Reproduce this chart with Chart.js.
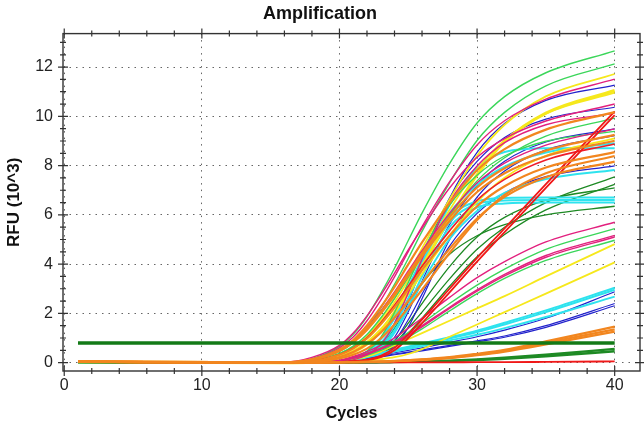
<!DOCTYPE html>
<html>
<head>
<meta charset="utf-8">
<script src="https://cdn.jsdelivr.net/npm/chart.js@4.4.1/dist/chart.umd.min.js"></script>
<style>
  html, body { margin: 0; padding: 0; background: #fff; }
  canvas { display: block; }
</style>
</head>
<body>
<canvas id="amp" width="644" height="429"></canvas>
<script>
const cycles = [1, 16, 18, 20, 21, 22, 23, 24, 25, 26, 28, 30, 32, 35, 40];

const xTicks = [0, 10, 20, 30, 40];
const yTicks = [0, 2, 4, 6, 8, 10, 12];

const thresholdX = [1, 40];
const thresholdY = [0.8, 0.8];

// RFU (10^3) per run, one row per well
const greenRuns = [
  [0.03, 0.01, 0.16, 0.66, 1.15, 1.87, 2.80, 3.83, 4.96, 6.07, 8.08, 9.73, 10.80, 11.77, 12.66],
  [0.03, 0.00, 0.08, 0.46, 0.81, 1.40, 2.21, 3.18, 4.23, 5.33, 7.30, 9.02, 10.16, 11.24, 12.13],
  [0.03, 0.00, 0.06, 0.37, 0.67, 1.14, 1.81, 2.60, 3.46, 4.37, 5.98, 7.38, 8.32, 9.20, 9.93],
  [0.02, 0.00, 0.01, 0.06, 0.19, 0.46, 1.02, 2.04, 3.25, 4.46, 6.40, 7.61, 8.39, 8.99, 9.39],
  [0.02, 0.00, 0.02, 0.08, 0.20, 0.38, 0.60, 0.88, 1.22, 1.60, 2.40, 3.15, 3.80, 4.60, 5.44],
  [0.02, 0.00, 0.02, 0.07, 0.16, 0.30, 0.50, 0.75, 1.04, 1.37, 2.10, 2.80, 3.42, 4.15, 4.97]
];
const magentaRuns = [
  [0.03, 0.01, 0.14, 0.60, 1.04, 1.70, 2.54, 3.48, 4.51, 5.52, 7.34, 8.84, 9.82, 10.70, 11.51],
  [0.03, 0.02, 0.21, 0.70, 1.20, 1.90, 2.73, 3.63, 4.58, 5.45, 7.09, 8.34, 9.10, 9.81, 10.50],
  [0.03, 0.01, 0.12, 0.50, 0.86, 1.41, 2.10, 2.87, 3.72, 4.55, 6.06, 7.30, 8.10, 8.83, 9.49],
  [0.02, 0.00, 0.01, 0.03, 0.11, 0.32, 0.74, 1.58, 2.84, 4.20, 6.51, 7.98, 8.93, 9.66, 10.13],
  [0.02, 0.00, 0.02, 0.10, 0.25, 0.45, 0.70, 1.00, 1.40, 1.80, 2.65, 3.45, 4.10, 4.90, 5.70],
  [0.02, 0.00, 0.02, 0.08, 0.20, 0.37, 0.58, 0.85, 1.15, 1.50, 2.25, 2.95, 3.58, 4.35, 5.17],
  [0.02, 0.00, 0.02, 0.07, 0.18, 0.34, 0.55, 0.80, 1.10, 1.45, 2.20, 2.90, 3.52, 4.28, 5.10]
];
const yellowRuns = [
  [0.03, 0.00, 0.05, 0.33, 0.62, 1.07, 1.75, 2.62, 3.58, 4.64, 6.63, 8.40, 9.66, 10.81, 11.72],
  [0.03, 0.00, 0.05, 0.31, 0.58, 1.00, 1.64, 2.45, 3.35, 4.34, 6.20, 7.85, 9.03, 10.11, 10.96],
  [0.03, 0.00, 0.04, 0.26, 0.48, 0.84, 1.36, 2.04, 2.78, 3.61, 5.16, 6.53, 7.51, 8.40, 9.11],
  [0.02, 0.00, 0.01, 0.06, 0.13, 0.25, 0.45, 0.70, 0.95, 1.20, 1.70, 2.20, 2.70, 3.50, 4.81],
  [0.02, 0.00, 0.01, 0.02, 0.04, 0.08, 0.14, 0.22, 0.35, 0.55, 1.05, 1.55, 2.05, 2.80, 4.07]
];
const yellowThick = [
  [0.03, 0.00, 0.02, 0.22, 0.42, 0.75, 1.29, 2.04, 2.93, 3.90, 5.86, 7.62, 8.97, 10.13, 11.05]
];
const blueRuns = [
  [0.02, 0.00, 0.01, 0.02, 0.07, 0.23, 0.55, 1.23, 2.46, 3.92, 6.67, 8.54, 9.71, 10.65, 11.27],
  [0.02, 0.00, 0.01, 0.03, 0.11, 0.32, 0.75, 1.61, 2.90, 4.30, 6.67, 8.17, 9.14, 9.89, 10.37],
  [0.02, 0.00, 0.01, 0.02, 0.06, 0.20, 0.46, 1.03, 2.07, 3.30, 5.61, 7.19, 8.18, 8.96, 9.49],
  [0.02, 0.00, 0.01, 0.01, 0.03, 0.10, 0.29, 0.67, 1.44, 2.59, 4.99, 6.72, 7.78, 8.64, 9.22],
  [0.02, 0.00, 0.01, 0.02, 0.05, 0.17, 0.39, 0.87, 1.74, 2.78, 4.73, 6.06, 6.89, 7.55, 7.99],
  [0.02, 0.00, 0.01, 0.04, 0.10, 0.20, 0.30, 0.40, 0.50, 0.60, 0.82, 1.05, 1.32, 1.80, 2.88],
  [0.02, 0.00, 0.01, 0.03, 0.08, 0.17, 0.26, 0.35, 0.43, 0.52, 0.70, 0.88, 1.08, 1.50, 2.40],
  [0.02, 0.00, 0.01, 0.03, 0.07, 0.15, 0.23, 0.32, 0.40, 0.48, 0.66, 0.84, 1.03, 1.43, 2.31]
];
const cyanRuns = [
  [0.02, 0.00, 0.01, 0.05, 0.15, 0.35, 0.75, 1.50, 2.60, 3.90, 6.40, 7.90, 8.55, 8.70, 8.70],
  [0.02, 0.00, 0.01, 0.02, 0.08, 0.24, 0.57, 1.22, 2.19, 3.24, 5.02, 6.16, 6.89, 7.45, 7.82],
  [0.02, 0.00, 0.01, 0.08, 0.20, 0.45, 0.95, 1.80, 2.90, 4.10, 5.90, 6.55, 6.68, 6.70, 6.70],
  [0.02, 0.00, 0.01, 0.06, 0.16, 0.38, 0.80, 1.55, 2.60, 3.80, 5.70, 6.45, 6.58, 6.60, 6.60],
  [0.02, 0.00, 0.01, 0.05, 0.13, 0.30, 0.65, 1.30, 2.30, 3.50, 5.50, 6.30, 6.46, 6.50, 6.50],
  [0.02, 0.00, 0.01, 0.06, 0.18, 0.43, 0.97, 1.93, 3.08, 4.23, 6.07, 7.22, 7.96, 8.53, 8.91],
  [0.02, 0.00, 0.01, 0.06, 0.13, 0.26, 0.40, 0.52, 0.65, 0.78, 1.03, 1.30, 1.62, 2.12, 3.04],
  [0.02, 0.00, 0.01, 0.05, 0.12, 0.25, 0.38, 0.50, 0.62, 0.74, 0.98, 1.24, 1.55, 2.05, 2.96],
  [0.02, 0.00, 0.01, 0.05, 0.11, 0.22, 0.34, 0.45, 0.56, 0.67, 0.90, 1.13, 1.40, 1.85, 2.68]
];
const orangeRuns = [
  [0.04, 0.01, 0.13, 0.53, 0.92, 1.51, 2.25, 3.07, 3.99, 4.88, 6.49, 7.81, 8.67, 9.46, 10.17],
  [0.04, 0.01, 0.12, 0.48, 0.84, 1.37, 2.05, 2.80, 3.63, 4.44, 5.91, 7.11, 7.89, 8.61, 9.25],
  [0.04, 0.01, 0.11, 0.47, 0.82, 1.33, 1.99, 2.73, 3.53, 4.32, 5.75, 6.93, 7.69, 8.38, 9.01],
  [0.04, 0.00, 0.05, 0.32, 0.57, 0.98, 1.56, 2.24, 2.98, 3.76, 5.15, 6.35, 7.16, 7.92, 8.55],
  [0.04, 0.00, 0.02, 0.17, 0.32, 0.57, 0.98, 1.55, 2.23, 2.96, 4.45, 5.79, 6.81, 7.69, 8.39],
  [0.04, 0.00, 0.03, 0.23, 0.43, 0.75, 1.22, 1.82, 2.49, 3.23, 4.62, 5.85, 6.73, 7.53, 8.16],
  [0.04, 0.00, 0.00, 0.01, 0.02, 0.03, 0.05, 0.07, 0.10, 0.13, 0.22, 0.36, 0.52, 0.86, 1.46],
  [0.04, 0.00, 0.00, 0.01, 0.02, 0.03, 0.04, 0.06, 0.09, 0.12, 0.20, 0.33, 0.48, 0.80, 1.35],
  [0.04, 0.00, 0.00, 0.01, 0.02, 0.03, 0.04, 0.06, 0.08, 0.11, 0.18, 0.30, 0.45, 0.74, 1.26]
];
const redRuns = [
  [0.03, 0.01, 0.01, 0.03, 0.06, 0.12, 0.28, 0.60, 1.15, 1.75, 3.00, 4.25, 5.45, 7.25, 10.20],
  [0.03, 0.01, 0.01, 0.03, 0.05, 0.10, 0.22, 0.50, 1.00, 1.60, 2.85, 4.10, 5.30, 7.10, 10.05],
  [0.02, 0.01, 0.01, 0.01, 0.01, 0.01, 0.01, 0.01, 0.01, 0.01, 0.01, 0.02, 0.02, 0.03, 0.05]
];
const redEarly = [
  [0.03, 0.00, 0.06, 0.33, 0.60, 1.02, 1.62, 2.33, 3.10, 3.91, 5.35, 6.60, 7.44, 8.23, 8.88]
];
const darkGreenRuns = [
  [0.02, 0.00, 0.01, 0.03, 0.08, 0.20, 0.42, 0.80, 1.40, 2.05, 3.40, 4.60, 5.50, 6.50, 7.54],
  [0.02, 0.00, 0.01, 0.03, 0.07, 0.15, 0.35, 0.70, 1.20, 1.80, 3.10, 4.30, 5.20, 6.20, 7.24],
  [0.02, 0.00, 0.01, 0.04, 0.09, 0.20, 0.45, 0.90, 1.60, 2.40, 3.90, 5.10, 5.90, 6.60, 7.10],
  [0.02, 0.00, 0.01, 0.05, 0.13, 0.30, 0.70, 1.40, 2.30, 3.20, 4.40, 5.15, 5.60, 6.00, 6.35]
];
const darkGreenLow = [
  [0.02, 0.00, 0.00, 0.00, 0.01, 0.01, 0.02, 0.03, 0.04, 0.05, 0.08, 0.13, 0.20, 0.32, 0.56],
  [0.02, 0.00, 0.00, 0.00, 0.00, 0.01, 0.01, 0.02, 0.03, 0.04, 0.06, 0.10, 0.16, 0.26, 0.46]
];

const FONT = "'Liberation Sans', Arial, sans-serif";

function runSets(runs, color, width) {
  return runs.map(run => ({
    data: cycles.map((c, i) => ({ x: c, y: run[i] })),
    borderColor: color,
    borderWidth: width,
    pointRadius: 0,
    fill: false,
    cubicInterpolationMode: 'monotone'
  }));
}

// first dataset ends up on top
const datasets = [
  {
    data: thresholdX.map((c, i) => ({ x: c, y: thresholdY[i] })),
    borderColor: '#137a17',
    borderWidth: 3.5,
    pointRadius: 0,
    fill: false
  },
  ...runSets(orangeRuns, '#f2861f', 2.2),
  ...runSets(redRuns, '#f01818', 1.8),
  ...runSets(darkGreenLow, '#1e8a24', 2.4),
  ...runSets(redEarly, '#ee1c2c', 1.6),
  ...runSets(magentaRuns, '#e2207e', 1.4),
  ...runSets(greenRuns, '#3bd65a', 1.4),
  ...runSets(yellowThick, '#f6e81c', 3),
  ...runSets(yellowRuns, '#f6e81c', 1.8),
  ...runSets(cyanRuns, '#2ee3ee', 2),
  ...runSets(blueRuns, '#2222cc', 1.2),
  ...runSets(darkGreenRuns, '#1e8a24', 1.3)
];

// box round the plot with tick marks crossing every side
const frameTicks = {
  id: 'frameTicks',
  afterDraw(chart) {
    const { ctx, chartArea: a, scales: { x, y } } = chart;
    ctx.save();
    ctx.strokeStyle = '#333';
    ctx.lineWidth = 1.4;
    ctx.strokeRect(a.left, a.top, a.right - a.left, a.bottom - a.top);
    ctx.lineWidth = 1.2;
    ctx.beginPath();
    for (let v = 0; v <= x.max; v += 2) {
      const px = x.getPixelForValue(v);
      const len = v % 10 === 0 ? 5 : 3;
      ctx.moveTo(px, a.bottom - len); ctx.lineTo(px, a.bottom + len);
      ctx.moveTo(px, a.top - len); ctx.lineTo(px, a.top + len);
    }
    for (let v = 0; v <= y.max; v += 0.5) {
      const py = y.getPixelForValue(v);
      const len = v % 2 === 0 ? 5 : 3;
      ctx.moveTo(a.left - len, py); ctx.lineTo(a.left + len, py);
      ctx.moveTo(a.right - len, py); ctx.lineTo(a.right + len, py);
    }
    ctx.stroke();
    ctx.restore();
  }
};

new Chart(document.getElementById('amp').getContext('2d'), {
  type: 'line',
  data: { datasets },
  options: {
    responsive: false,
    animation: false,
    layout: { padding: { left: 0, right: 4, top: 0, bottom: 0 } },
    plugins: {
      legend: { display: false },
      tooltip: { enabled: false },
      title: {
        display: true,
        text: 'Amplification',
        color: '#111',
        font: { family: FONT, size: 18, weight: 'bold' },
        padding: { top: 3, bottom: 9 }
      }
    },
    scales: {
      x: {
        type: 'linear',
        min: -0.09,
        max: 41.84,
        afterBuildTicks: s => { s.ticks = xTicks.map(v => ({ value: v })); },
        afterFit: s => { s.height = 58; },
        grid: { color: '#666', lineWidth: 1, drawTicks: false },
        border: { display: false, dash: [1.5, 5] },
        ticks: { padding: 5, color: '#222', font: { family: FONT, size: 16 } },
        title: {
          display: true,
          text: 'Cycles',
          color: '#111',
          font: { family: FONT, size: 16, weight: 'bold' },
          padding: { top: 0, bottom: 6 }
        }
      },
      y: {
        type: 'linear',
        min: -0.34,
        max: 13.36,
        afterBuildTicks: s => { s.ticks = yTicks.map(v => ({ value: v })); },
        afterFit: s => { s.width = 63; },
        grid: { color: '#666', lineWidth: 1, drawTicks: false },
        border: { display: false, dash: [1.5, 5] },
        ticks: { padding: 10, color: '#222', font: { family: FONT, size: 16 } },
        title: {
          display: true,
          text: 'RFU (10^3)',
          color: '#111',
          font: { family: FONT, size: 17, weight: 'bold' },
          padding: { top: 4, bottom: 0 }
        }
      }
    }
  },
  plugins: [frameTicks]
});
</script>
</body>
</html>
